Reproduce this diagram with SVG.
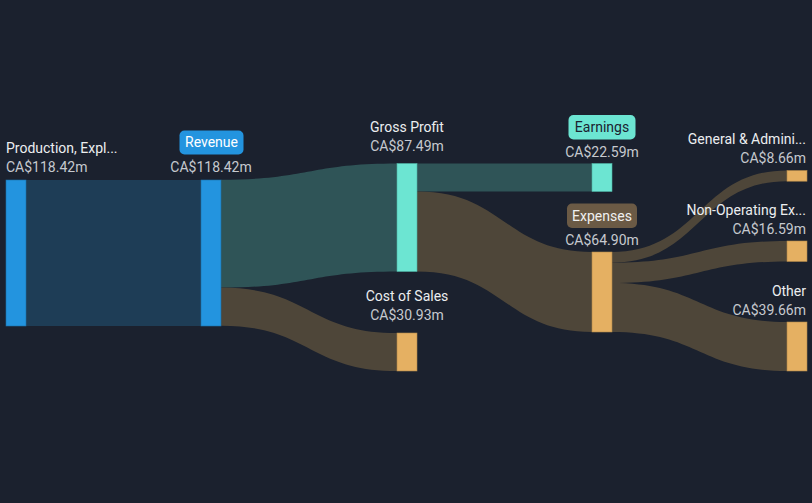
<svg xmlns="http://www.w3.org/2000/svg" width="812" height="503" viewBox="0 0 812 503">
<style>
.t{font-family:Roboto,"Liberation Sans",sans-serif;font-size:14px}
.n{fill:#eceef0}
.v{fill:#c6c9cf}
.m{text-anchor:middle}
.e{text-anchor:end}
.lb{fill:#1e3d56}
.lt{fill:#2f5457}
.lo{fill:#4e4639}
.nb{fill:#2394df;stroke:#1d6fa8;stroke-width:0.6}
.nt{fill:#6ce5d2;stroke:#4fb3a3;stroke-width:0.6}
.no{fill:#e5b062;stroke:#b0884a;stroke-width:0.6}
</style>
<rect width="812" height="503" fill="#1b212e"/>
<g id="connectors">
<path class="lb" d="M26,180 L201,180 L201,326 L26,326 Z"/>
<path class="lt" d="M221,179.7 C309,179.7 309,163.5 397,163.5 L397,271.4 C309,271.4 309,287.6 221,287.6 Z"/>
<path class="lo" d="M221,287.6 C309,287.6 309,333 397,333 L397,371.1 C309,371.1 309,325.7 221,325.7 Z"/>
<path class="lt" d="M417,163.5 L592,163.5 L592,191.4 L417,191.4 Z"/>
<path class="lo" d="M417,191.4 C504.5,191.4 504.5,252 592,252 L592,332 C504.5,332 504.5,271.4 417,271.4 Z"/>
<path class="lo" d="M612,252 C699.5,252 699.5,170.5 787,170.5 L787,181.2 C699.5,181.2 699.5,262.7 612,262.7 Z"/>
<path class="lo" d="M612,262.7 C699.5,262.7 699.5,241 787,241 L787,261.5 C699.5,261.5 699.5,283.1 612,283.1 Z"/>
<path class="lo" d="M612,283.1 C699.5,283.1 699.5,322 787,322 L787,370.9 C699.5,370.9 699.5,332 612,332 Z"/>
</g>
<g id="production">
<rect class="nb" x="6" y="180" width="20" height="146"/>
<text class="t n" x="6" y="153">Production, Expl...</text>
<text class="t v" x="6" y="172">CA$118.42m</text>
</g>
<g id="revenue">
<rect class="nb" x="201" y="180" width="20" height="146"/>
<rect x="179.5" y="130.5" width="64" height="24" rx="5" fill="#2394df"/>
<text class="t m" x="211.5" y="147" fill="#ffffff">Revenue</text>
<text class="t v m" x="211" y="172">CA$118.42m</text>
</g>
<g id="gross-profit">
<rect class="nt" x="397" y="163.5" width="20" height="108"/>
<text class="t n m" x="407" y="132">Gross Profit</text>
<text class="t v m" x="407" y="151">CA$87.49m</text>
</g>
<g id="cost-of-sales">
<rect class="no" x="397" y="333" width="20" height="38"/>
<text class="t n m" x="407" y="301">Cost of Sales</text>
<text class="t v m" x="407" y="320">CA$30.93m</text>
</g>
<g id="earnings">
<rect class="nt" x="592" y="163.5" width="20" height="28"/>
<rect x="568.5" y="115" width="67" height="24.5" rx="5" fill="#6ce5d2"/>
<text class="t m" x="602" y="132" fill="#1b2130">Earnings</text>
<text class="t v m" x="602" y="157">CA$22.59m</text>
</g>
<g id="expenses">
<rect class="no" x="592" y="252" width="20" height="80"/>
<rect x="567" y="203.5" width="70" height="24.5" rx="5" fill="#6b5a45"/>
<text class="t m" x="602" y="220.5" fill="#f0f0f0">Expenses</text>
<text class="t v m" x="602" y="245">CA$64.90m</text>
</g>
<g id="general-admin">
<rect class="no" x="787" y="170.5" width="20" height="10.7"/>
<text class="t n e" x="806" y="144">General &amp; Admini...</text>
<text class="t v e" x="806" y="163">CA$8.66m</text>
</g>
<g id="non-operating">
<rect class="no" x="787" y="241" width="20" height="20.5"/>
<text class="t n e" x="806" y="215">Non-Operating Ex...</text>
<text class="t v e" x="806" y="234">CA$16.59m</text>
</g>
<g id="other">
<rect class="no" x="787" y="322" width="20" height="49"/>
<text class="t n e" x="806" y="296">Other</text>
<text class="t v e" x="806" y="315">CA$39.66m</text>
</g>
</svg>
